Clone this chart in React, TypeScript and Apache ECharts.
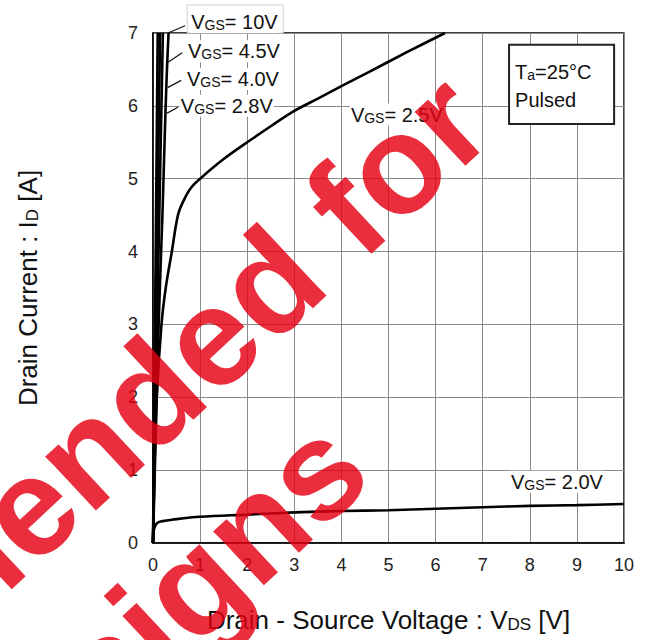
import { useEffect, useRef } from "react";
import * as echarts from "echarts";

// ---- data (V_DS [V], I_D [A]) ----
const xMin = 0, xMax = 10, xStep = 1;
const yMin = 0, yMax = 7, yStep = 1;

const vgs10V: [number, number][] = [[0, 0], [0.05, 3.5], [0.1, 7]];
const vgs45V: [number, number][] = [[0, 0], [0.07, 3.3], [0.15, 7]];
const vgs40V: [number, number][] = [[0, 0], [0.1, 3.4], [0.21, 7]];
const vgs28V: [number, number][] = [[0, 0], [0.12, 3], [0.2, 4.5], [0.25, 5.6], [0.29, 6.4], [0.33, 7]];
const vgs25V: [number, number][] = [
  [0, 0], [0.03, 1], [0.08, 2], [0.18, 3], [0.27, 3.5], [0.4, 4], [0.53, 4.5], [0.65, 4.7], [0.8, 4.87],
  [1.0, 5], [1.5, 5.27], [2.0, 5.5], [2.5, 5.72], [3.0, 5.93], [3.5, 6.1], [4.0, 6.27], [4.6, 6.47], [5.4, 6.74], [6.2, 7],
];
const vgs20V: [number, number][] = [
  [0, 0], [0.01, 0.15], [0.05, 0.24], [0.1, 0.28], [0.2, 0.3], [0.4, 0.32], [1, 0.36], [2, 0.39],
  [3, 0.42], [4, 0.44], [5, 0.45], [6, 0.47], [7, 0.49], [8, 0.51], [9, 0.52], [10, 0.535],
];
const seriesNames = ["VGS=10V", "VGS=4.5V", "VGS=4.0V", "VGS=2.8V", "VGS=2.5V", "VGS=2.0V"];
const seriesData = [vgs10V, vgs45V, vgs40V, vgs28V, vgs25V, vgs20V];
const curveLabels = ["10V", "4.5V", "4.0V", "2.8V", "2.5V", "2.0V"];
const watermarkLines = ["Not recommended for", "new designs"];

// ---- annotation placement (data coordinates) ----
const labelAnchors: [number, number][] = [[0.79, 7.15], [0.72, 6.75], [0.70, 6.37], [0.57, 6.0], [4.18, 5.88], [7.58, 0.84]];
const leaderFrom: ([number, number] | null)[] = [[0.68, 7.1], [0.62, 6.73], [0.6, 6.35], [0.53, 5.98], null, null];
const leaderTo: ([number, number] | null)[] = [[0.32, 7.0], [0.32, 6.6], [0.31, 6.25], [0.3, 5.9], null, null];

const FONT = "'Liberation Sans', Arial, Helvetica, sans-serif";

export default function App() {
  const ref = useRef<HTMLDivElement>(null);
  useEffect(() => {
    if (!ref.current) return;
    const chart = echarts.init(ref.current, undefined, { renderer: "svg" });
    const nameRich = {
      t: { fontSize: 26, color: "#111", fontFamily: FONT, lineHeight: 26 },
      s: { fontSize: 17, color: "#111", fontFamily: FONT, verticalAlign: "bottom", lineHeight: 12 },
    };
    const option: any = {
      animation: false,
      backgroundColor: "#fff",
      grid: { left: 153, right: 24, top: 33, bottom: 97, show: true, borderColor: "#000", borderWidth: 1.5 },
      xAxis: {
        type: "value", min: xMin, max: xMax, interval: xStep,
        axisLine: { show: true, lineStyle: { color: "#000", width: 1.5 } },
        axisTick: { show: false },
        axisLabel: { fontSize: 18, color: "#222", margin: 13, fontFamily: FONT },
        splitLine: { show: true, lineStyle: { color: "#8a8a8a", width: 1 } },
        name: "{t|Drain - Source Voltage : V}{s|DS}{t| [V]}",
        nameLocation: "middle",
        nameGap: 64,
        nameTextStyle: { fontFamily: FONT, rich: nameRich },
      },
      yAxis: {
        type: "value", min: yMin, max: yMax, interval: yStep,
        axisLine: { show: true, lineStyle: { color: "#000", width: 1.5 } },
        axisTick: { show: false },
        axisLabel: { fontSize: 18, color: "#222", margin: 15, fontFamily: FONT },
        splitLine: { show: true, lineStyle: { color: "#8a8a8a", width: 1 } },
        name: "{t|Drain Current : I}{s|D}{t| [A]}",
        nameLocation: "middle",
        nameGap: 112,
        nameRotate: 90,
        nameTextStyle: { fontFamily: FONT, rich: nameRich },
      },
      series: seriesData.map((d, i) => ({
        name: seriesNames[i],
        type: "line",
        data: d,
        showSymbol: false,
        smooth: i >= 3 ? 0.35 : false,
        clip: true,
        lineStyle: { color: "#000", width: 2.6 },
        z: 6,
      })),
    };
    chart.setOption(option);

    const px = (p: [number, number]) => chart.convertToPixel({ gridIndex: 0 }, p) as number[];
    const rich = {
      a: { fontSize: 20, fill: "#111", fontFamily: FONT, lineHeight: 20 },
      b: { fontSize: 14, fill: "#111", fontFamily: FONT, verticalAlign: "bottom", lineHeight: 9 },
    };
    const graphics: any[] = [];

    // white box behind the 10V label
    const p10 = px(labelAnchors[0]);
    graphics.push({
      type: "rect", z: 3,
      shape: { x: p10[0] - 3, y: 5, width: 96, height: px([0, yMax])[1] - 5 },
      style: { fill: "#fff", stroke: "#d0d0d0", lineWidth: 1 },
    });

    curveLabels.forEach((lab, i) => {
      const p = px(labelAnchors[i]);
      graphics.push({
        type: "text", z: 4, x: p[0], y: p[1],
        style: {
          text: `{a|V}{b|GS}{a|= ${lab}}`, rich,
          align: "left", verticalAlign: "middle",
          backgroundColor: "#fff", padding: [1, 1, 1, 1],
        },
      });
      const f = leaderFrom[i], t = leaderTo[i];
      if (f && t) {
        const a = px(f), b = px(t);
        graphics.push({
          type: "line", z: 7,
          shape: { x1: a[0], y1: a[1], x2: b[0], y2: b[1] },
          style: { stroke: "#111", lineWidth: 1.2 },
        });
      }
    });

    // Ta / Pulsed box
    const bTL = px([7.56, 6.84]);
    const bBR = px([9.79, 5.75]);
    graphics.push({
      type: "rect", z: 8,
      shape: { x: bTL[0], y: bTL[1], width: bBR[0] - bTL[0], height: bBR[1] - bTL[1] },
      style: { fill: "#fff", stroke: "#222", lineWidth: 2 },
    });
    graphics.push({
      type: "text", z: 9, x: bTL[0] + 6, y: bTL[1] + 27,
      style: { text: "{a|T}{b|a}{a|=25°C}", rich, align: "left", verticalAlign: "middle" },
    });
    graphics.push({
      type: "text", z: 9, x: bTL[0] + 6, y: bTL[1] + 55,
      style: { text: "Pulsed", font: `20px ${FONT}`, fill: "#111", align: "left", verticalAlign: "middle" },
    });

    // watermark (two rotated lines, right-anchored)
    const wmAnchors: [number, number][] = [[465, 100], [343, 445]];
    const wmAngle = (43 * Math.PI) / 180;
    watermarkLines.forEach((txt, i) => {
      graphics.push({
        type: "text", z: 50, x: wmAnchors[i][0], y: wmAnchors[i][1], rotation: wmAngle,
        style: {
          text: txt, font: `bold 140px ${FONT}`, fill: "#e60012", opacity: 0.82,
          align: "right", verticalAlign: "middle",
        },
      });
    });

    chart.setOption({ graphic: graphics });
    return () => chart.dispose();
  }, []);
  return <div ref={ref} style={{ position: "fixed", left: 0, top: 0, width: 648, height: 640 }} />;
}
